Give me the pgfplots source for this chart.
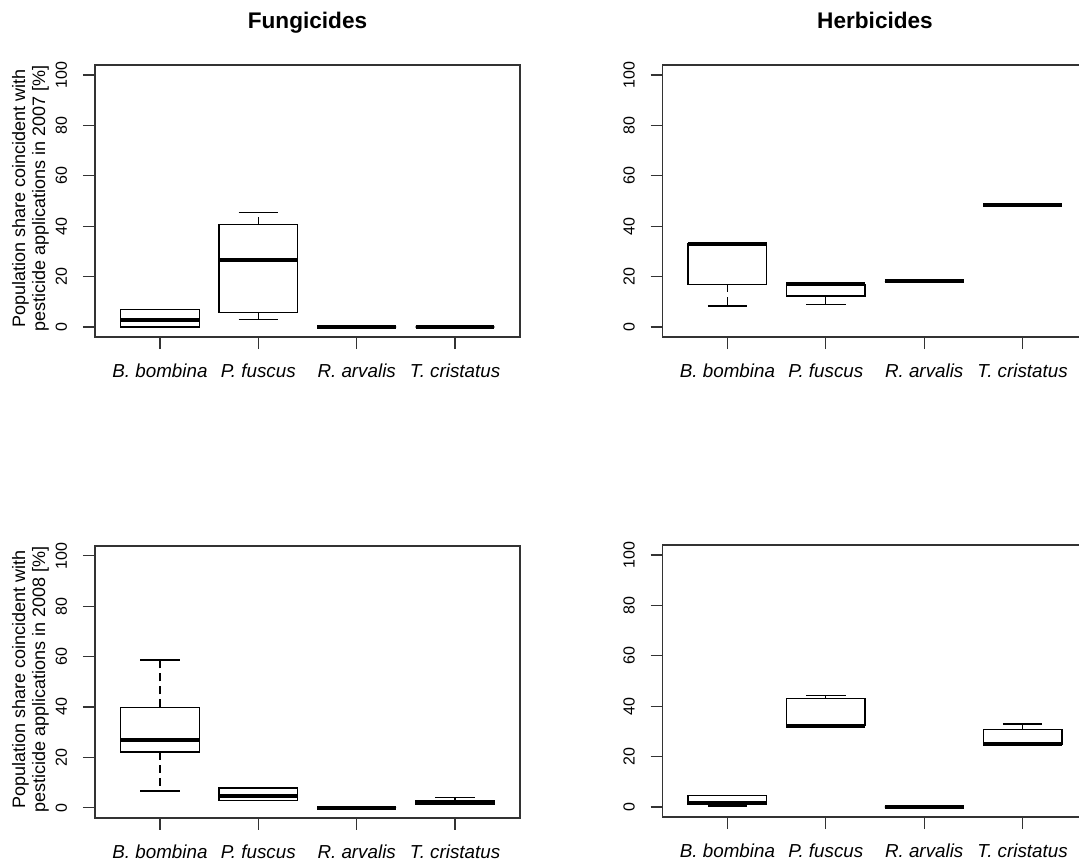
\documentclass[border=0pt]{standalone}
\usepackage{fontspec}
\setmainfont{Liberation Sans}
\usepackage{pgfplots}
\pgfplotsset{compat=1.18}
\usepgfplotslibrary{statistics}

\pgfplotsset{
  rbox/.style={
    scale only axis, width=212.5pt, height=136pt,
    xmin=0.34, xmax=4.66, ymin=-4, ymax=104,
    xtick={1,2,3,4},
    xticklabels={B. bombina,P. fuscus,R. arvalis,T. cristatus},
    ytick={0,20,40,60,80,100},
    tick align=outside, xtick pos=bottom, ytick pos=left,
    major tick length=6pt,
    axis line style={black!80, line width=0.75pt},
    every tick/.style={black!80, line width=0.6pt},
    /pgf/number format/assume math mode=true,
    yticklabel style={font=\fontsize{8}{9.5}\selectfont, rotate=90, anchor=base},
    yticklabel shift=8pt,
    xticklabel style={font=\itshape\fontsize{9.4}{11}\selectfont, anchor=base},
    xticklabel shift=14.25pt,
    title style={font=\bfseries\fontsize{11.3}{13}\selectfont, anchor=base, at={(axis description cs:0.5,1)}, yshift=12.35pt},
    ylabel style={font=\fontsize{9}{10}\selectfont, align=center, at={(axis description cs:-0.152,0.51)}, anchor=center},
    boxplot/draw direction=y,
    boxplot/box extend=0.8,
    boxplot/whisker extend=0.4,
    boxplot/every box/.style={draw=black, line width=0.7pt},
    boxplot/every median/.style={draw=black, line width=2pt},
    boxplot/draw/lower whisker/.code={%
      \draw[black, line width=0.65pt, dash pattern=on 4pt off 2.5pt]
        (boxplot box cs:\pgfplotsboxplotvalue{lower quartile},0.5) -- (boxplot box cs:\pgfplotsboxplotvalue{lower whisker},0.5);
      \draw[black, line width=0.65pt]
        (boxplot whisker cs:\pgfplotsboxplotvalue{lower whisker},0) -- (boxplot whisker cs:\pgfplotsboxplotvalue{lower whisker},1);
    },
    boxplot/draw/upper whisker/.code={%
      \draw[black, line width=0.65pt, dash pattern=on 4pt off 2.5pt]
        (boxplot box cs:\pgfplotsboxplotvalue{upper quartile},0.5) -- (boxplot box cs:\pgfplotsboxplotvalue{upper whisker},0.5);
      \draw[black, line width=0.65pt]
        (boxplot whisker cs:\pgfplotsboxplotvalue{upper whisker},0) -- (boxplot whisker cs:\pgfplotsboxplotvalue{upper whisker},1);
    },
  },
}

% draw position, lower whisker, lower quartile, median, upper quartile, upper whisker
\newcommand{\rbx}[6]{\addplot[black, boxplot prepared={draw position=#1, lower whisker=#2, lower quartile=#3, median=#4, upper quartile=#5, upper whisker=#6}] coordinates {};}

\begin{document}
\begin{tikzpicture}
\useasboundingbox (0,0) rectangle (539.5pt,431.5pt);
\clip (0,0) rectangle (539.5pt,431.5pt);

% Fungicides 2007
\begin{axis}[rbox, at={(47.5pt,263pt)}, anchor=south west,
  title={Fungicides},
  ylabel={Population share coincident with\\pesticide applications in 2007 [\%]}]
\rbx{1}{0}{0}{2.9}{7.0}{7.0}
\rbx{2}{2.9}{5.7}{26.7}{40.6}{45.5}
\rbx{3}{0}{0}{0}{0}{0}
\rbx{4}{0}{0}{0}{0}{0}
\end{axis}

% Herbicides 2007
\begin{axis}[rbox, at={(331.25pt,263pt)}, anchor=south west,
  title={Herbicides}]
\rbx{1}{8.3}{16.9}{33.1}{33.1}{33.1}
\rbx{2}{9.0}{12.3}{16.9}{16.9}{16.9}
\rbx{3}{18.1}{18.1}{18.1}{18.1}{18.1}
\rbx{4}{48.3}{48.3}{48.3}{48.3}{48.3}
\end{axis}

% Fungicides 2008
\begin{axis}[rbox, at={(47.5pt,22.6pt)}, anchor=south west,
  ylabel={Population share coincident with\\pesticide applications in 2008 [\%]}]
\rbx{1}{6.7}{22.1}{26.9}{39.8}{58.6}
\rbx{2}{2.9}{2.9}{4.5}{7.9}{7.9}
\rbx{3}{0}{0}{0}{0}{0}
\rbx{4}{1.2}{1.2}{2.0}{2.8}{4.0}
\end{axis}

% Herbicides 2008
\begin{axis}[rbox, at={(331.25pt,23pt)}, anchor=south west]
\rbx{1}{0.4}{1.0}{1.5}{4.5}{4.5}
\rbx{2}{32.3}{32.3}{32.3}{43.1}{44.3}
\rbx{3}{0}{0}{0}{0}{0}
\rbx{4}{24.8}{24.8}{24.8}{30.7}{32.9}
\end{axis}
\end{tikzpicture}
\end{document}
